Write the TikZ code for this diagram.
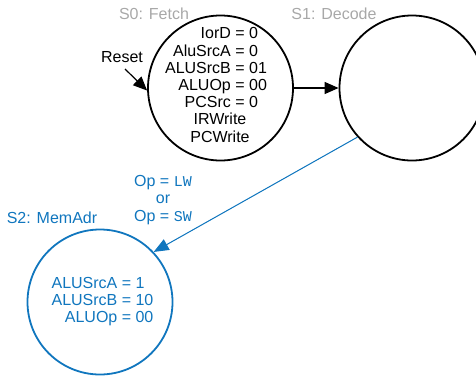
\documentclass[tikz,border=0pt]{standalone}
\usepackage{fontspec}
\setmainfont{Liberation Sans}
\setmonofont{Liberation Mono}
\usetikzlibrary{arrows.meta}
\definecolor{sblue}{RGB}{16,118,190}
\definecolor{sgray}{RGB}{168,168,168}
\begin{document}
\begin{tikzpicture}[x=1pt,y=-1pt,
  state/.style={circle,draw,line width=1.8pt,minimum size=145pt,inner sep=0pt},
  bstate/.style={state,draw=sblue},
  lbl/.style={inner sep=0pt,font=\fontsize{16}{17.2}\selectfont},
  arr/.style={line width=1.2pt,-{Triangle[length=14pt,width=12pt]}},
  barr/.style={line width=1pt,draw=sblue,-{Triangle[length=15pt,width=12pt]},fill=sblue}]
\useasboundingbox (0,0) rectangle (476,375);
% states
\node[state] (s0) at (220.5,88) {};
\node[state] (s1) at (412,88) {};
\node[bstate] (s2) at (100,302) {};
% state names
\node[lbl,text=sgray] (n0) at (154,14) {S0: Fetch};
\node[lbl,text=sgray] (n1) at (334,14) {S1: Decode};
\node[lbl,text=sblue] (n2) at (52,218) {S2: MemAdr};
% outputs
\node[lbl] (t0) at (216,87) {\fontsize{16}{17.2}\selectfont
  \begin{tabular}{@{}r@{ = }l@{}}
  IorD & 0\\
  AluSrcA & 0\\
  ALUSrcB & 01\\
  ALUOp & 00\\
  PCSrc & 0\\
  \multicolumn{2}{@{}c@{}}{\hspace*{8pt}IRWrite}\\
  \multicolumn{2}{@{}c@{}}{\hspace*{8pt}PCWrite}
  \end{tabular}};
\node[lbl,text=sblue] (t2) at (102.5,302) {\fontsize{16}{17.2}\selectfont
  \begin{tabular}{@{}r@{ = }l@{}}
  ALUSrcA & 1\\
  ALUSrcB & 10\\
  ALUOp & 00
  \end{tabular}};
% reset
\node[lbl] (reset) at (122,57) {Reset};
\coordinate (rs) at (125,69);
\draw[arr] (rs) -- (s0.182);
% transitions
\draw[arr] (s0.east) -- (s1.west);
\draw[barr] (s1.222) -- (s2.43);
\node[lbl,text=sblue,align=center] (cond) at (163,200)
  {Op = {\fontsize{15}{17.2}\ttfamily LW}\\or\\Op = {\fontsize{15}{17.2}\ttfamily SW}};
\end{tikzpicture}
\end{document}
